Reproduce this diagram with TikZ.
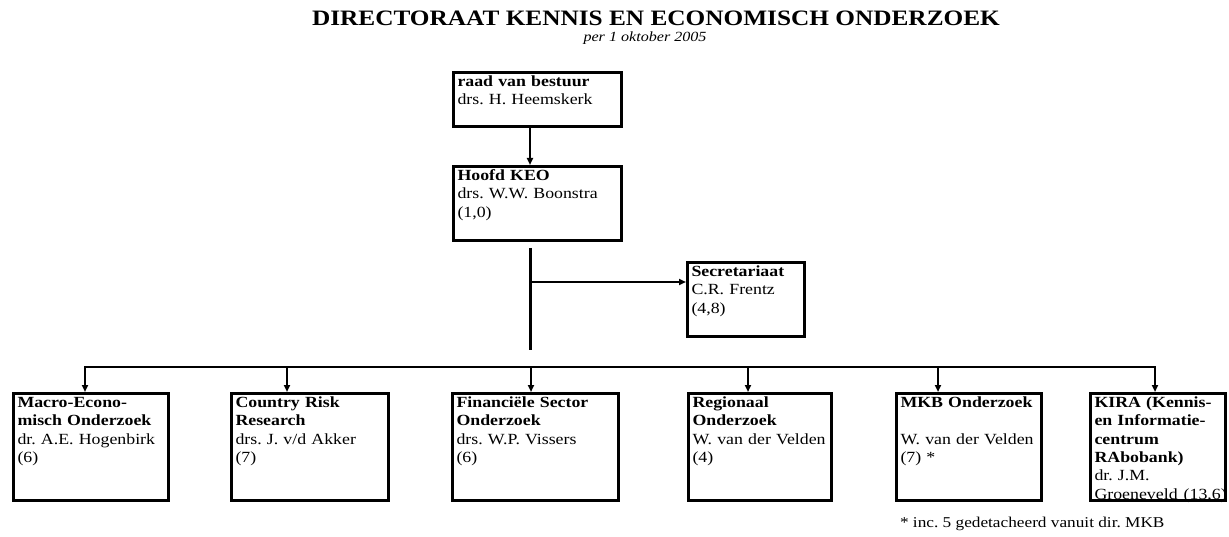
\documentclass[tikz,border=0pt]{standalone}
\usepackage{fontspec}
\setmainfont{Liberation Serif}[FakeStretch=1.15]
\usetikzlibrary{positioning, arrows.meta}

\newcommand{\unitfont}{\fontsize{15.5}{18.3}\selectfont\frenchspacing}

\begin{document}
\begin{tikzpicture}[
         x=1pt, y=-1pt,
         unit/.style 2 args={draw, line width=3pt, anchor=north west,
            inner xsep=4pt, inner ysep=4pt, text width=#1, text height=10pt,
            text depth=#2, align=left, font=\unitfont},
         link/.style={line width=2pt, -{Triangle[length=7pt,width=6pt]}},
         bus/.style={line width=2.5pt, line cap=rect},
         trunk/.style={line width=3pt},
         heading/.style={font=\fontsize{22}{26}\selectfont\bfseries, anchor=base},
         subheading/.style={font=\fontsize{14}{17}\selectfont\itshape, anchor=base},
         note/.style={font=\fontsize{15}{18}\selectfont\frenchspacing, anchor=base east}
      ]
         \useasboundingbox (0,0) rectangle (1229,537);

         % Title
         \node[heading] (title) at (656,26) {DIRECTORAAT KENNIS EN ECONOMISCH ONDERZOEK};
         \node[subheading] (date) at (645,42) {per 1 oktober 2005};

         % Top of the organisation
         \node[unit={160pt}{36pt}] (raad) at (452,71) {\textbf{raad van bestuur}\\drs. H. Heemskerk};
         \node[unit={160pt}{56pt}] (hoofd) at (452,165) {\textbf{Hoofd KEO}\\drs. W.W. Boonstra\\(1,0)};
         \node[unit={109pt}{56pt}] (secr) at (686,261) {\textbf{Secretariaat}\\C.R. Frentz\\(4,8)};

         % Departments
         \node[unit={147pt}{89pt}] (b1) at (12,392) {\textbf{Macro-Econo-}\\\textbf{misch Onderzoek}\\dr. A.E. Hogenbirk\\(6)};
         \node[unit={149pt}{89pt}] (b2) at (230,392) {\textbf{Country Risk}\\\textbf{Research}\\drs. J. v/d Akker\\(7)};
         \node[unit={158pt}{89pt}] (b3) at (451,392) {\textbf{Financiële Sector}\\\textbf{Onderzoek}\\drs. W.P. Vissers\\(6)};
         \node[unit={135pt}{89pt}] (b4) at (687,392) {\textbf{Regionaal}\\\textbf{Onderzoek}\\W. van der Velden\\(4)};
         \node[unit={137pt}{89pt}] (b5) at (895,392) {\textbf{MKB Onderzoek}\\[18.3pt]W. van der Velden\\(7) *};
         \node[unit={127pt}{89pt}] (b6) at (1089,392) {\textbf{KIRA (Kennis-}\\\textbf{en Informatie-}\\\textbf{centrum}\\\textbf{RAbobank)}\\dr. J.M.\\\mbox{Groeneveld\hspace{6pt}(13,6)}};

         % Connectors
         \coordinate (t0) at (530,248);
         \coordinate (t1) at (530,350);
         \coordinate (br) at (530,282);
         \coordinate (busL) at (85,367);
         \coordinate (busR) at (1155,367);

         \draw[link] (raad.south -| t0) -- (hoofd.north -| t0);
         \draw[trunk] (t0) -- (t1);
         \draw[link] (br) -- (br -| secr.west);
         \draw[bus] (busL) -- (busR);
         \foreach \x/\b in {85/b1, 287/b2, 531/b3, 748/b4, 938/b5, 1155/b6}
            \draw[link] (\x,367) -- (\x,367 |- \b.north);

         % Footnote
         \node[note] (fn) at (1168,527) {* inc. 5 gedetacheerd vanuit dir. MKB};
      \end{tikzpicture}
\end{document}
